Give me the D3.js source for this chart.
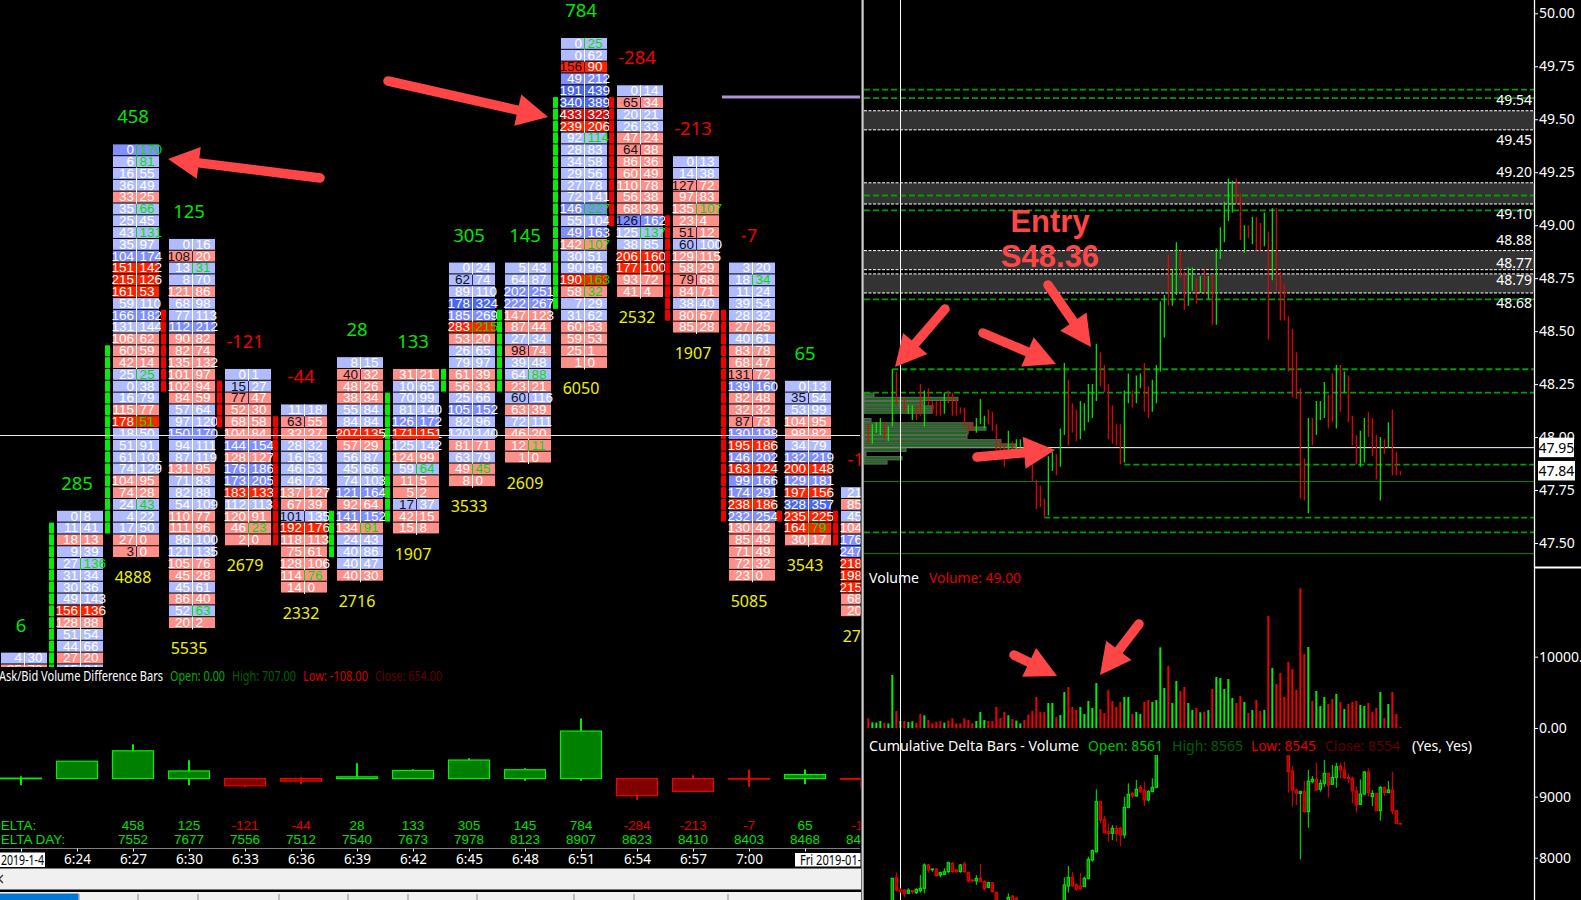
<!DOCTYPE html>
<html><head><meta charset="utf-8"><style>
html,body{margin:0;padding:0;background:#000;overflow:hidden}
svg{display:block;position:absolute;left:0;top:0}
text{font-family:"Noto Sans","Open Sans",sans-serif}
text.entry{font-family:"Liberation Sans",Arial,sans-serif;font-weight:700}
.cell{font-family:"Liberation Sans Narrow","Liberation Sans",sans-serif;font-size:13.5px}
</style></head><body>
<script src="https://cdnjs.cloudflare.com/ajax/libs/d3/7.9.0/d3.min.js"></script>
<script>
// ---------- footprint bars (left chart) ----------
const barTimes = ["6:21","6:24","6:27","6:30","6:33","6:36","6:39","6:42","6:45","6:48","6:51","6:54","6:57","7:00","7:03","7:06"];
const barDelta = [6,285,458,125,-121,-44,28,133,305,145,784,-284,-213,-7,65,-12];
const barDeltaDay = [null,null,7552,7677,7556,7512,7540,7673,7978,8123,8907,8623,8410,8403,8468,8456];
const barVolume = [null,null,4888,5535,2679,2332,2716,1907,3533,2609,6050,2532,1907,5085,3543,2750];
const barHigh = [39,285,567,303,0,22,253,154,336,171,992,0,55,149,149,0];
const barLow = [-110,0,0,-110,-143,-94,0,0,0,-39,-39,-353,-213,-138,-94,-176];
const barTopLevel = [52,40,9,17,28,31,27,28,19,19,0,4,10,19,29,38];

const bid621=[4,85];
const ask621=[30,78];
const bid624=[0,11,18,9,27,31,30,49,156,128,51,44,27,15];
const ask624=[8,41,13,39,136,34,36,143,136,88,54,66,20,24];
const bid627=[0,6,16,36,33,35,25,43,35,104,151,215,161,59,166,131,106,60,42,25,0,16,115,178,18,51,61,74,104,74,24,4,17,27,3];
const ask627=[170,81,55,49,25,66,45,131,97,174,142,126,53,110,182,144,62,59,14,25,38,79,77,51,50,91,101,129,95,28,43,22,50,0,0];
const bid630=[0,108,13,8,121,68,77,112,90,82,135,101,102,84,57,97,150,94,87,131,71,82,54,110,111,86,121,105,45,45,86,52,20];
const ask630=[16,20,31,70,86,98,113,212,82,74,132,97,94,59,64,120,170,111,119,95,83,88,109,77,96,100,135,76,28,61,40,63,2];
const bid633=[0,15,77,52,68,104,144,128,176,173,183,112,120,46,2];
const ask633=[1,27,47,30,58,84,154,127,186,205,133,113,91,23,0];
const bid636=[11,63,32,28,16,46,46,137,67,101,192,118,75,128,114,14];
const ask636=[18,55,27,32,53,53,73,127,39,135,176,113,61,106,76,0];
const bid639=[8,40,48,38,55,84,207,57,56,45,74,121,92,141,134,24,40,40,40];
const ask639=[15,32,26,34,84,84,135,29,87,66,103,164,64,152,91,43,86,47,30];
const bid642=[31,10,70,81,126,171,125,124,59,11,5,17,42,15];
const ask642=[21,65,99,140,172,151,142,99,64,5,2,37,15,8];
const bid645=[0,62,89,178,185,283,53,26,79,61,56,25,105,82,120,81,63,49,8];
const ask645=[24,74,110,324,269,215,20,65,97,39,33,66,152,96,140,71,79,45,0];
const bid648=[5,64,202,222,147,87,27,98,39,64,23,60,63,72,46,12,1];
const ask648=[43,87,251,267,123,44,34,74,48,88,21,116,39,111,20,11,0];
const bid651=[0,0,156,49,191,340,433,239,92,28,34,29,27,72,146,55,49,142,30,90,190,58,7,31,60,59,25,1];
const ask651=[25,62,90,212,439,389,323,206,114,83,58,56,78,141,227,104,163,107,51,96,163,32,29,62,53,53,1,0];
const bid654=[0,65,20,26,47,64,86,60,110,56,68,126,125,38,206,177,93,41];
const ask654=[14,34,21,33,24,38,36,49,78,38,39,162,137,85,160,100,72,4];
const bid657=[0,14,127,97,135,23,51,60,129,58,79,84,38,80,85];
const ask657=[13,38,72,83,107,4,12,100,115,29,68,71,40,67,28];
const bid700=[3,18,11,39,28,27,40,83,68,131,139,82,32,87,130,195,146,163,99,174,238,232,130,85,71,72,23];
const ask700=[20,34,24,54,32,25,61,78,47,72,160,48,32,73,198,186,202,124,166,291,186,254,42,49,49,32,0];
const bid703=[0,35,53,104,98,34,132,200,129,197,328,235,164,30];
const ask703=[13,54,99,95,82,79,219,148,181,156,357,225,79,17];
const bid706=[21,85,45,104,176,247,218,198,215,68,20];
const ask706=[40,60,70,80,190,260,170,150,180,40,5];
const bidColumns=[bid621,bid624,bid627,bid630,bid633,bid636,bid639,bid642,bid645,bid648,bid651,bid654,bid657,bid700,bid703,bid706];
const askColumns=[ask621,ask624,ask627,ask630,ask633,ask636,ask639,ask642,ask645,ask648,ask651,ask654,ask657,ask700,ask703,ask706];
// rows whose ask prints in green, rows whose bid prints in dark
const greenAskRows=[[],[4],[0,1,5,7,19,23,30],[2,31],[13],[14],[14],[8],[5,17],[9,15],[0,8,14,17,20,21],[12],[4],[1],[12],[]];
const darkBidRows=[[],[],[34],[1],[1,2],[1,9],[1],[11],[1],[7,11],[2],[1,5,11],[2,6,7,10],[9,13],[1],[]];
// tied rows that print as seller-side: [bar, row]
const sellSideTies=[[13,12]];
// stacked imbalance runs: bar, first level, last level
const buyRuns=[[1,41,53],[2,26,41],[6,40,43],[7,30,40],[8,28,29],[9,23,29],[10,5,22]];
const sellRuns=[[2,23,29],[3,29,32],[4,32,42],[10,5,15],[11,15,23],[12,23,40],[13,40,40],[14,40,42]];

// ---------- price chart (right) ----------
const priceHigh=[48.06,48.06,48.07,48.09,48.07,48.05,48.32,48.31,48.18,48.18,48.15,48.15,48.15,48.25,48.22,48.23,48.17,48.17,48.17,48.21,48.22,48.21,48.18,48.14,48.14,48.07,48.07,48.09,48.18,48.10,48.13,48.12,48.06,47.98,47.97,48.03,47.98,47.99,47.99,47.97,47.95,47.87,47.80,47.77,47.71,47.91,47.93,47.92,48.04,48.35,48.27,48.16,48.13,48.17,48.16,48.25,48.25,48.44,48.40,48.34,48.25,48.15,48.06,48.06,48.22,48.30,48.22,48.29,48.30,48.35,48.24,48.27,48.34,48.64,48.67,48.86,48.79,48.92,48.88,48.78,48.80,48.80,48.75,48.76,48.79,48.76,48.77,48.89,48.99,49.11,49.22,49.21,49.22,49.15,49.00,49.00,49.04,49.04,49.01,49.06,48.97,49.08,49.08,48.78,48.72,48.57,48.51,48.40,48.23,47.90,48.09,48.09,48.17,48.17,48.26,48.20,48.30,48.34,48.34,48.31,48.29,48.10,48.01,48.03,48.09,48.12,48.09,48.01,48.00,47.99,48.07,48.13,47.93,47.84];
const priceLow=[47.97,47.97,48.02,48.01,47.99,47.98,48.05,48.15,48.13,48.12,48.11,48.08,48.08,48.10,48.05,48.15,48.11,48.10,48.10,48.11,48.16,48.10,48.10,48.11,48.05,48.02,48.03,48.02,48.06,48.04,48.06,48.03,47.94,47.94,47.86,47.94,47.94,47.94,47.95,47.94,47.91,47.79,47.66,47.67,47.62,47.63,47.84,47.82,47.86,48.01,47.96,48.02,47.98,47.99,48.03,48.07,48.09,48.17,48.24,48.21,47.99,47.97,47.96,47.87,47.88,48.16,48.14,48.16,48.23,48.12,48.09,48.12,48.16,48.31,48.47,48.62,48.62,48.67,48.75,48.60,48.62,48.69,48.63,48.68,48.68,48.65,48.53,48.53,48.84,48.92,49.02,49.06,49.10,48.93,48.87,48.94,48.91,48.88,48.88,48.90,48.46,48.74,48.69,48.55,48.55,48.31,48.19,48.18,47.71,47.70,47.64,47.96,48.01,48.08,48.09,48.04,48.07,48.04,48.12,48.21,48.07,47.96,47.87,47.86,47.88,48.00,47.91,47.80,47.70,47.92,47.95,47.82,47.82,47.82];
const volumeValues=[1360,790,750,980,750,650,7430,2380,980,980,840,940,700,1960,1780,1120,650,840,940,750,1030,1360,650,650,1360,1120,650,980,2240,1120,980,980,2950,1400,2240,1780,1260,1030,650,1120,1870,2380,4350,2240,2240,3510,3510,1540,1820,5050,5750,2950,2520,2950,1960,3790,2810,6310,2660,2100,5330,3790,2950,3650,4350,4350,1960,2240,1960,3650,3930,3650,3930,11310,5610,8700,3510,6590,5190,5750,3510,2520,2810,2200,2290,2520,5470,7150,7010,5470,6870,4210,3510,4490,3650,2100,2520,3930,2380,2520,15710,8420,6170,7710,4350,9260,8270,5330,19590,10380,11360,3790,5190,3090,4350,3370,4070,4770,3650,2660,3370,3650,3790,3230,3090,3510,2240,2810,5050,1400,3370,5050,1960,140];
const upColorBars=[1,2,3,5,6,8,10,11,14,19,27,28,29,35,37,38,45,46,48,49,53,54,55,56,57,64,65,67,68,71,72,73,74,76,77,80,81,83,85,87,88,89,90,91,94,96,99,101,110,112,113,114,117,119,123,124,128,130];

// cumulative delta candles: [open, high, low, close]
const cumStartA=6;
const cumDeltaA=[[7300,7662,7280,7662],[7673,7760,7443,7470],[7470,7500,7420,7450],[7470,7481,7350,7405],[7416,7498,7405,7470],[7459,7470,7405,7443],[7427,7498,7405,7481],[7459,7716,7427,7498],[7498,7908,7416,7881],[7881,7897,7755,7798],[7804,7815,7771,7815],[7815,7826,7689,7705],[7716,7771,7678,7755],[7727,7826,7716,7771],[7771,7935,7744,7919],[7908,7924,7755,7771],[7798,7815,7744,7771],[7771,7897,7755,7881],[7897,7935,7755,7771],[7760,7771,7591,7623],[7634,7645,7607,7618],[7618,7716,7553,7662],[7662,7897,7607,7607],[7607,7634,7459,7498],[7514,7607,7498,7591],[7591,7597,7427,7443],[7432,7443,7280,7300]];
const cumStartB=35;
const cumDeltaB=[[7290,7416,7250,7350],[7370,7389,7260,7290],[7340,7350,7250,7280]];
const cumStartC=49;
const cumDeltaC=[[7300,7678,7280,7553],[7536,7864,7427,7678],[7678,7771,7525,7536],[7553,7580,7459,7481],[7536,7755,7481,7492],[7525,7689,7525,7662],[7662,8017,7645,7973],[7962,8137,7935,8115],[8099,9121,8082,8919],[8919,8919,8563,8618],[8629,8684,8399,8410],[8427,8563,8263,8399],[8399,8536,8290,8481],[8481,8536,8263,8399],[8481,8509,8192,8372],[8372,9000,8317,8826],[8826,9219,8826,9039],[9055,9082,8973,9011],[9011,9274,9000,9121],[9153,9192,9066,9082],[9110,9246,8848,8946],[8946,9110,8919,9082],[9082,9301,9082,9153],[9153,9800,9137,9750]];
const cumStartD=105;
const cumDeltaD=[[9800,9850,9066,9410],[9421,9503,8837,9110],[9110,9137,8864,9055],[9055,9099,7973,9082],[9082,9263,8738,8755],[8755,9438,8492,9257],[9246,9339,9219,9285],[9285,9558,9099,9110],[9121,9285,9082,9219],[9219,9602,9164,9383],[9383,9383,8984,9192],[9203,9520,9192,9317],[9317,9558,9148,9492],[9503,9558,9301,9438],[9438,9574,9285,9312],[9317,9383,9219,9301],[9301,9328,8891,9093],[9093,9164,8738,8864],[8875,9285,8864,9044],[9044,9421,9028,9405],[9405,9465,9000,9066],[9000,9110,8848,9055],[9055,9055,8771,8771],[8771,9175,8607,9153],[9153,9164,9011,9066],[9066,9257,9066,9110],[9110,9410,8711,8765],[8765,8782,8552,8563],[8561,8565,8545,8554]];

// volume profile
const profilePrices=[48.20,48.18,48.16,48.14,48.12,48.08,48.06,48.04,48.02,48.00,47.98,47.96,47.94,47.92,47.90,47.88];
const profileVolumes=[1000,9400,5900,6900,6800,700,10900,12200,10400,10300,13700,15200,4200,200,3800,2300];

// level lines
const zonePairs=[[49.54,49.45],[49.20,49.10],[48.88,48.79],[48.77,48.68]];
const dashedLevels=[49.64,49.60,49.14,49.07,48.65,48.21,48.32,47.87,47.62,47.55];
const dashedStartBar=[null,null,null,null,null,null,6,64,44,null];
const solidLevels=[47.79,47.45];
const zoneLabels=[["49.54",49.54,-1],["49.45",49.45,1],["49.20",49.20,-1],["49.10",49.10,1],["48.88",48.88,-1],["48.79",48.79,1],["48.77",48.77,-1],["48.68",48.68,1]];
const lastPrices=[47.95,47.84];
const priceTicks=[50,49.75,49.5,49.25,49,48.75,48.5,48.25,48,47.75,47.5];
const volumeTicks=[10000,0];
const cumTicks=[9000,8000];

const svg=d3.select("body").append("svg").attr("width",1581).attr("height",900);
svg.append("rect").attr("width",1581).attr("height",900).attr("fill","#000");
const defs=svg.append("defs");
function clip(id,x,y,w,h){defs.append("clipPath").attr("id",id).append("rect").attr("x",x).attr("y",y).attr("width",w).attr("height",h);}
clip("cFoot",0,0,860.5,667);clip("cLeft",0,0,860.5,900);clip("cCum",864,755,670,145);clip("cRight",864,0,670,900);

// ========== LEFT ==========
const xBar=d3.scaleLinear().domain([0,1]).range([21,77]);
const yLevel=d3.scaleLinear().domain([0,1]).range([38,49.82]);
const pitch=yLevel(1)-yLevel(0);
const cellH=pitch-1;
const cursorY=435.5;
const GREEN="#00e800",RED="#f00000";
const blueFill=d3.scaleThreshold().domain([150,300]).range(["#b0bcff","#808eff","#4a66f2"]);
const redFill=d3.scaleThreshold().domain([150,400]).range(["#ff9089","#ff2400","#d81010"]);
const foot=svg.append("g").attr("clip-path","url(#cFoot)");
bidColumns.forEach((bids,b)=>{
  const left=xBar(b)-20, mid=left+23.5, g=foot.append("g");
  const rows=bids.map((bid,i)=>({bid,ask:askColumns[b][i],i,top:yLevel(barTopLevel[b]+i)}));
  const isTieSold=r=>sellSideTies.some(([tb,ti])=>tb===b&&ti===r.i);
  const fill=r=>{const m=Math.max(r.bid,r.ask);return (r.ask>=r.bid&&!isTieSold(r))?blueFill(m):redFill(m);};
  const isDark=r=>darkBidRows[b].includes(r.i), isGreen=r=>greenAskRows[b].includes(r.i);
  g.selectAll(".b").data(rows).join("rect").attr("x",left).attr("y",r=>r.top).attr("width",46).attr("height",cellH).attr("fill",fill);
  g.selectAll(".l").data(rows).join("line").attr("x1",mid).attr("x2",mid).attr("y1",r=>r.top).attr("y2",r=>r.top+pitch+.5)
    .attr("stroke",r=>isGreen(r)?"#00e000":isDark(r)?"#402058":"#fff").attr("stroke-width",1);
  g.selectAll(".t1").data(rows).join("text").attr("class","cell").attr("text-anchor","end").attr("x",mid-2.5).attr("y",r=>r.top+9.8)
    .attr("fill",r=>isDark(r)?"#101020":"#fff").text(r=>r.bid);
  g.selectAll(".t2").data(rows).join("text").attr("class","cell").attr("x",mid+3).attr("y",r=>r.top+9.8)
    .attr("fill",r=>isGreen(r)?"#00e000":"#fff").text(r=>r.ask);
  // lower part of the row under the cursor line hides its digits
  g.selectAll(".c").data(rows.filter(r=>r.top<cursorY&&r.top+cellH>cursorY)).join("rect").attr("x",left).attr("y",cursorY).attr("width",46)
    .attr("height",r=>r.top+cellH-cursorY).attr("fill",fill);
});
function runs(list,dx,color){
  list.forEach(([b,a,z])=>{
    foot.append("g").selectAll("rect").data(d3.range(a,z+1)).join("rect")
      .attr("x",xBar(b)-20+dx).attr("y",l=>yLevel(l)).attr("width",5).attr("height",cellH).attr("fill",color);
  });
}
runs(buyRuns,-8,"#00f000");runs(sellRuns,48,"#f00000");
const leftTxt=svg.append("g").attr("clip-path","url(#cFoot)");
leftTxt.selectAll(".d").data(barDelta).join("text").attr("text-anchor","middle").attr("x",(d,i)=>xBar(i)).attr("y",(d,i)=>yLevel(barTopLevel[i])-27.5)
  .attr("dy",".35em").attr("font-size",18.5).attr("fill",d=>d<0?RED:GREEN).text(d=>d);
leftTxt.selectAll(".v").data(barVolume).join("text").attr("text-anchor","middle").attr("x",(d,i)=>xBar(i))
  .attr("y",(d,i)=>yLevel(barTopLevel[i]+bidColumns[i].length)+19.5).attr("dy",".35em").attr("font-size",16).attr("fill","#f0f000").text(d=>d);
// cursor + purple level
svg.append("line").attr("x1",0).attr("x2",860).attr("y1",cursorY).attr("y2",cursorY).attr("stroke","#e8e8e8").attr("stroke-width",1);
svg.append("line").attr("x1",722).attr("x2",860).attr("y1",97).attr("y2",97).attr("stroke","#b090d8").attr("stroke-width",3);

// legend text
function legend(list,y){list.forEach(([t,x,w,c])=>svg.append("text").attr("x",x).attr("y",y).attr("dy",".35em").attr("font-size",14.5).attr("fill",c).attr("textLength",w).attr("lengthAdjust","spacingAndGlyphs").text(t));}
const leftLegend=[["Ask/Bid Volume Difference Bars",-1,164,"#fff"],["Open: 0.00",170,55,"#00b000"],["High: 707.00",232,64,"#006000"],["Low: -108.00",303,65,"#d00000"],["Close: 654.00",375,67,"#600000"]];
legend(leftLegend,676);

// delta candles
const yDelta=d3.scaleLinear().domain([0,1000]).range([778.5,718]);
const cand=svg.append("g").attr("clip-path","url(#cLeft)");
barDelta.forEach((d,i)=>{
  const col=d<0?"#f00000":"#00f000",fill=d<0?"#800000":"#008000",x=xBar(i);
  cand.append("line").attr("x1",x).attr("x2",x).attr("y1",yDelta(barHigh[i])).attr("y2",yDelta(barLow[i])).attr("stroke",col).attr("stroke-width",2);
  cand.append("rect").attr("x",x-20.5).attr("width",41).attr("y",yDelta(Math.max(d,0))).attr("height",Math.max(.6,Math.abs(yDelta(d)-yDelta(0)))).attr("fill",fill).attr("stroke",col).attr("stroke-width",1.2);
});
// delta rows
const rows=svg.append("g").attr("clip-path","url(#cLeft)");
rows.append("text").attr("x",-9).attr("y",825).attr("dy",".35em").attr("class","cell").attr("fill","#00e000").text("DELTA:");
rows.append("text").attr("x",-9).attr("y",839).attr("dy",".35em").attr("class","cell").attr("fill","#00e000").text("DELTA DAY:");
rows.selectAll(".dd").data(barDelta.map((d,i)=>({d,i})).filter(o=>barDeltaDay[o.i]!==null)).join("text").attr("class","cell").attr("text-anchor","middle")
  .attr("x",o=>xBar(o.i)).attr("y",825).attr("dy",".35em").attr("fill",o=>o.d<0?"#e00000":"#00e000").text(o=>o.d);
rows.selectAll(".de").data(barDeltaDay.map((d,i)=>({d,i})).filter(o=>o.d!==null)).join("text").attr("class","cell").attr("text-anchor","middle")
  .attr("x",o=>xBar(o.i)).attr("y",839).attr("dy",".35em").attr("fill","#00e000").text(o=>o.d);

// x axis
const axisX=svg.append("g").attr("transform","translate(0,848.5)").attr("clip-path","url(#cLeft)")
  .call(d3.axisBottom(xBar).tickValues(d3.range(0,16)).tickSize(3).tickFormat(i=>barTimes[i]));
axisX.select(".domain").attr("stroke","#fff").attr("d","M0,0H860");
axisX.selectAll(".tick line").attr("stroke","#fff");
axisX.selectAll(".tick text").attr("fill","#fff").attr("font-size",13.5).attr("font-family",'"Noto Sans"').attr("y",5).attr("dy",".8em");
axisX.selectAll(".tick").filter(i=>i==0||i>=14).select("text").remove();
svg.append("rect").attr("x",0).attr("y",852.5).attr("width",45).attr("height",14.5).attr("fill","#fff");
svg.append("text").attr("x",1).attr("y",860).attr("dy",".35em").attr("font-size",13.5).attr("fill","#000").attr("textLength",43).attr("lengthAdjust","spacingAndGlyphs").text("2019-1-4");
svg.append("rect").attr("x",795).attr("y",853).attr("width",65.5).attr("height",13.5).attr("fill","#fff");
svg.append("text").attr("x",800).attr("y",860).attr("dy",".35em").attr("font-size",13.5).attr("fill","#000").attr("clip-path","url(#cLeft)").attr("textLength",74).attr("lengthAdjust","spacingAndGlyphs").text("Fri 2019-01-04");

// chrome at the bottom
svg.append("rect").attr("x",0).attr("y",868.5).attr("width",861).attr("height",21).attr("fill","#f0f0f0");
svg.append("path").attr("d","M3,875L-1,879L3,883").attr("fill","none").attr("stroke","#333").attr("stroke-width",1.3);
svg.append("rect").attr("x",0).attr("y",892).attr("width",861).attr("height",8).attr("fill","#f0f0f0");
svg.append("rect").attr("x",0).attr("y",893.5).attr("width",78.5).attr("height",6.5).attr("fill","#0078d7");
[79,138,198,279,348,408,477,574,634,728].forEach(x=>svg.append("line").attr("x1",x).attr("x2",x).attr("y1",894).attr("y2",900).attr("stroke","#888"));
svg.append("rect").attr("x",861.5).attr("y",0).attr("width",2.2).attr("height",900).attr("fill","#cfcfcf");

// ========== RIGHT ==========
const xIdx=d3.scaleLinear().domain([0,1]).range([868.33,872.33]);
const yPrice=d3.scaleLinear().domain([50,47.5]).range([13.3,543]);
const right=svg.append("g").attr("clip-path","url(#cRight)");
const X0=864,X1=1534;
zonePairs.forEach(([hi,lo])=>{
  right.append("rect").attr("x",X0).attr("width",X1-X0).attr("y",yPrice(hi)).attr("height",yPrice(lo)-yPrice(hi)).attr("fill","#333");
  [hi,lo].forEach(p=>right.append("line").attr("x1",X0).attr("x2",X1).attr("y1",yPrice(p)).attr("y2",yPrice(p)).attr("stroke","#fff").attr("stroke-dasharray","3,1.5"));
});
// profile
const xProfile=d3.scaleLinear().domain([0,15200]).range([864,1016]);
right.append("line").attr("x1",X0).attr("x2",X1).attr("y1",yPrice(lastPrices[0])).attr("y2",yPrice(lastPrices[0])).attr("stroke","#fff").attr("stroke-width",1);
right.selectAll(".prof").data(profilePrices).join("rect").attr("x",xProfile(0)).attr("y",p=>yPrice(p)-1.6).attr("height",3.2)
  .attr("width",(p,i)=>xProfile(profileVolumes[i])-xProfile(0)).attr("fill","#186c18").attr("stroke","#666").attr("stroke-width",1);
dashedLevels.forEach((p,i)=>right.append("line").attr("x1",dashedStartBar[i]===null?X0:xIdx(dashedStartBar[i])).attr("x2",X1).attr("y1",yPrice(p)).attr("y2",yPrice(p))
  .attr("stroke","#00a000").attr("stroke-width",1.8).attr("stroke-dasharray","6,3"));
solidLevels.forEach(p=>right.append("line").attr("x1",X0).attr("x2",X1).attr("y1",yPrice(p)).attr("y2",yPrice(p)).attr("stroke","#008a00").attr("stroke-width",1));
// price bars
const isUp=i=>upColorBars.includes(i);
right.selectAll(".pb").data(priceHigh).join("line").attr("x1",(d,i)=>xIdx(i)).attr("x2",(d,i)=>xIdx(i)).attr("y1",d=>yPrice(d)).attr("y2",(d,i)=>yPrice(priceLow[i]))
  .attr("stroke",(d,i)=>isUp(i)?"#00f000":"#f00000").attr("stroke-width",1.2);
// cursor vertical
svg.append("line").attr("x1",900.5).attr("x2",900.5).attr("y1",0).attr("y2",900).attr("stroke","#fff").attr("stroke-width",1);
// zone labels
svg.selectAll(".zl").data(zoneLabels).join("text").attr("text-anchor","end").attr("x",1532).attr("y",d=>yPrice(d[1])+d[2]*10.5).attr("dy",".35em").attr("font-size",14).attr("fill","#fff").text(d=>d[0]);

// axes
function styleAxis(sel){sel.select(".domain").remove();sel.selectAll(".tick line").attr("stroke","#fff");sel.selectAll(".tick text").attr("fill","#fff").attr("font-size",14).attr("font-family",'"Noto Sans"').attr("x",4.5);}
svg.append("g").attr("transform","translate(1534.5,0)").call(d3.axisRight(yPrice).tickValues(priceTicks).tickSize(3.5).tickFormat(d3.format(".2f"))).call(styleAxis);
lastPrices.forEach((p,i)=>{
  const bx=[1539,1538][i],bw=[35,37][i],by=yPrice(p);
  svg.append("rect").attr("x",bx).attr("y",by-10).attr("width",bw).attr("height",19.5).attr("fill","#fff");
  svg.append("text").attr("x",bx+bw/2).attr("y",by).attr("dy",".35em").attr("text-anchor","middle").attr("font-size",14).attr("fill","#000").text(p.toFixed(2));
});
svg.append("line").attr("x1",1534.5).attr("x2",1534.5).attr("y1",0).attr("y2",900).attr("stroke","#fff").attr("stroke-width",1.3);
svg.append("line").attr("x1",1534.5).attr("x2",1581).attr("y1",567.5).attr("y2",567.5).attr("stroke","#fff").attr("stroke-width",1.8);

// volume
const yVol=d3.scaleLinear().domain([0,10000]).range([728,656.7]);
right.selectAll(".vb").data(volumeValues).join("rect").attr("x",(d,i)=>xIdx(i)-1).attr("width",2).attr("y",d=>yVol(d)).attr("height",d=>yVol(0)-yVol(d))
  .attr("fill",(d,i)=>isUp(i)?"#00f000":"#f00000");
svg.append("g").attr("transform","translate(1534.5,0)").call(d3.axisRight(yVol).tickValues(volumeTicks).tickSize(3.5).tickFormat(d3.format(".2f"))).call(styleAxis);
legend([["Volume",869,50,"#fff"],["Volume: 49.00",929,92,"#e00000"]],578);

// cumulative delta
const yCum=d3.scaleLinear().domain([9000,8000]).range([796.7,857.7]);
legend([["Cumulative Delta Bars - Volume",869,210,"#fff"],["Open: 8561",1088,75,"#00c000"],["High: 8565",1172,71,"#006000"],["Low: 8545",1251,65,"#e00000"],["Close: 8554",1325,75,"#600000"],["(Yes, Yes)",1412,60,"#fff"]],746);
const cum=svg.append("g").attr("clip-path","url(#cCum)");
[[cumStartA,cumDeltaA],[cumStartB,cumDeltaB],[cumStartC,cumDeltaC],[cumStartD,cumDeltaD]].forEach(([s,arr])=>{
  arr.forEach(([o,h,l,c],k)=>{
    const x=xIdx(s+k),up=c>=o,col=up?"#00f000":"#f00000";
    cum.append("line").attr("x1",x).attr("x2",x).attr("y1",yCum(h)).attr("y2",yCum(l)).attr("stroke",col).attr("stroke-width",1);
    cum.append("rect").attr("x",x-1.2).attr("width",2.4).attr("y",yCum(Math.max(o,c))).attr("height",Math.max(.6,Math.abs(yCum(o)-yCum(c)))).attr("fill",up?"#009000":"#a00000").attr("stroke",col).attr("stroke-width",1);
  });
});
svg.append("g").attr("transform","translate(1534.5,0)").call(d3.axisRight(yCum).tickValues(cumTicks).tickSize(3.5).tickFormat(d3.format("d"))).call(styleAxis);

// ========== annotations ==========
const ARROW="#ff4646";
function arrow(tx,ty,hx,hy){
  const dx=hx-tx,dy=hy-ty,len=Math.hypot(dx,dy),ux=dx/len,uy=dy/len,nx=-uy,ny=ux,hl=31,hw=16,bx=hx-ux*hl,by=hy-uy*hl;
  svg.append("line").attr("x1",tx).attr("y1",ty).attr("x2",bx+ux*2).attr("y2",by+uy*2).attr("stroke",ARROW).attr("stroke-width",9.5).attr("stroke-linecap","round");
  svg.append("path").attr("d",`M${hx},${hy}L${bx+nx*hw},${by+ny*hw}L${bx-nx*hw},${by-ny*hw}Z`).attr("fill",ARROW);
}
[[320,178,168,159],[388,81,548,117],[945,309,895,367],[983,333,1056,364],[1048,285,1091,347],[977,457,1055,450],[1014,655,1057,676],[1139,624,1100,675]].forEach(a=>arrow(...a));
[["Entry",1050,232],["S48.36",1050,267]].forEach(([t,x,y])=>svg.append("text").attr("class","entry").attr("x",x).attr("y",y).attr("text-anchor","middle").attr("fill",ARROW).attr("font-size",31).text(t));
</script>
</body></html>
